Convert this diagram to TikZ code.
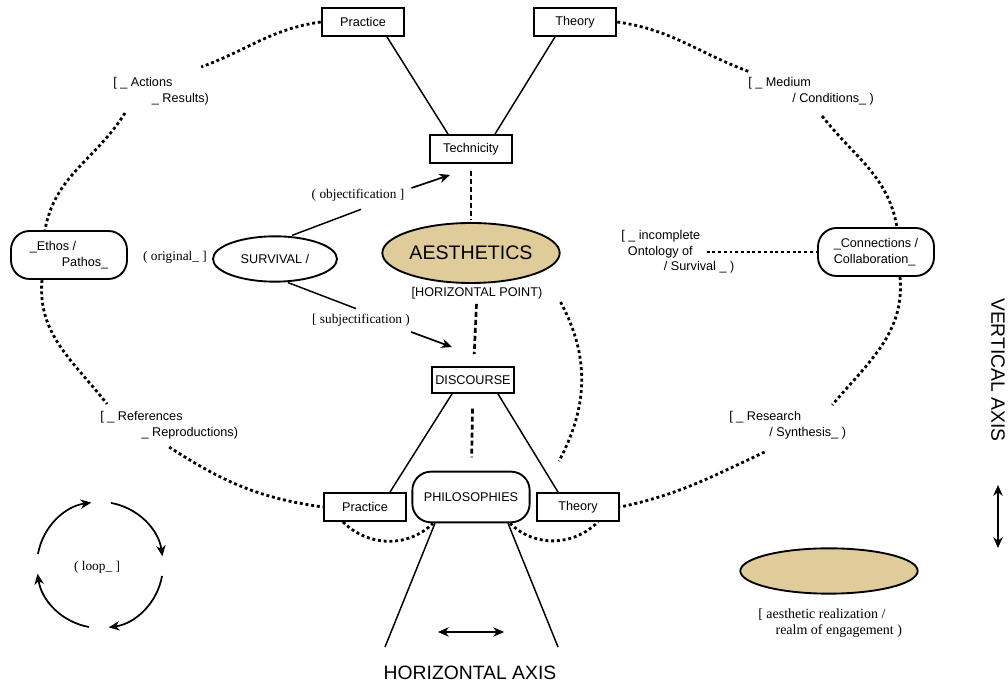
\documentclass[tikz,border=0pt]{standalone}
\usepackage{fontspec}
\setsansfont{Liberation Sans}
\newfontfamily\notefont{Liberation Serif}
\usetikzlibrary{calc,positioning,shapes.geometric,arrows.meta}
\definecolor{sand}{RGB}{224,204,154}

\tikzset{
  box/.style={draw, line width=1.4pt, minimum width=62pt, minimum height=21pt, inner sep=0pt, font=\sffamily\fontsize{9.5}{11.8}\selectfont},
  roundbox/.style={box, rounded corners=14pt, minimum width=87pt, minimum height=36pt, align=left},
  lbl/.style={inner sep=0pt, align=left, font=\sffamily\fontsize{9.5}{11.8}\selectfont},
  note/.style={inner sep=0pt, align=left, font=\notefont\fontsize{10}{12}\selectfont},
  dotline/.style={line width=2.1pt, dash pattern=on 2.2pt off 2.1pt},
  vdash/.style={line width=2pt, dash pattern=on 3.8pt off 2.2pt},
  thin/.style={line width=1.1pt},
  arr/.style={line width=1.3pt, -{Stealth[length=8pt,width=7pt,inset=2.5pt]}},
  darr/.style={line width=1.3pt, {Stealth[length=8pt,width=7pt,inset=2.5pt]}-{Stealth[length=8pt,width=7pt,inset=2.5pt]}},
}

\begin{document}
\begin{tikzpicture}[x=0.75pt,y=0.75pt]
  \useasboundingbox (0,0) rectangle (1008,691);

  % upper triangle
  \node[box] (ptop) at (363,669) {Practice};
  \node[box] (ttop) at (575,669) {Theory};
  \node[box] (tech) at (471,542) {Technicity};
  \draw[thin] ($(ptop.south)+(24,0)$) -- ($(tech.north)+(-23,0)$);
  \draw[thin] ($(ttop.south)+(-20,0)$) -- ($(tech.north)+(24,0)$);

  % centre column
  \node[ellipse, draw, fill=sand, line width=1.4pt, minimum width=133pt, minimum height=45pt, inner sep=0pt,
        font=\sffamily\fontsize{14.7}{16}\selectfont] (aes) at (471,438) {AESTHETICS};
  \node[lbl] (hpoint) at (477,398) {[HORIZONTAL POINT)};
  \node[box, minimum height=19.5pt] (disc) at (473,311) {DISCOURSE};
  \node[roundbox, minimum width=88pt, minimum height=38pt] (phil) at (471,194) {PHILOSOPHIES};
  \node[box] (pbot) at (365,184) {Practice};
  \node[box] (tbot) at (578,184) {Theory};

  \draw[vdash, shorten <=5pt, shorten >=2pt] (tech) -- (aes);
  \draw[vdash, shorten <=3.5pt, shorten >=9pt] (hpoint) -- (disc);
  \draw[vdash, shorten <=11pt, shorten >=10pt] (disc) -- (phil);
  \draw[thin] ($(disc.south)+(-21,0)$) -- ($(pbot.north)+(25,0)$);
  \draw[thin] ($(disc.south)+(25,0)$) -- ($(tbot.north)+(-20,0)$);
  \draw[dotline] ($(aes.east)+(0,-49)$) to[out=-62,in=62] ($(tbot.north)+(-19,31)$);

  % lower legs
  \coordinate (legL) at (385,44);
  \coordinate (legR) at (558,44);
  \draw[thin] ($(phil.south)+(-36,0)$) -- (legL);
  \draw[thin] ($(phil.south)+(37,0)$) -- (legR);
  \draw[dotline] ($(pbot.south)+(-22,0)$) to[out=-45,in=-135] ($(phil.south)+(-38,0)$);
  \draw[dotline] ($(phil.south)+(39,0)$) to[out=-45,in=-135] ($(tbot.south)+(20,0)$);
  \draw[darr] (438,59) -- (504,59);
  \node[font=\sffamily\fontsize{14.5}{16}\selectfont] (haxis) at (470,18) {HORIZONTAL AXIS};

  % outer ring
  \node[roundbox] (ethos) at (69,436) {\_Ethos /\\\hspace*{24pt}Pathos\_};
  \node[roundbox] (conn) at (876,439) {\_Connections /\\Collaboration\_};
  \node[lbl, anchor=west] (actions) at (113,600) {[ \_ Actions\\\hspace*{29pt}\_ Results)};
  \node[lbl, anchor=west] (medium) at (748,600) {[ \_ Medium\\\hspace*{33pt}/ Conditions\_ )};
  \node[lbl, anchor=west] (refs) at (100,266) {[ \_ References\\\hspace*{31pt}\_ Reproductions)};
  \node[lbl, anchor=west] (research) at (729,266) {[ \_ Research\\\hspace*{30pt}/ Synthesis\_ )};
  \node[lbl, anchor=west] (incomplete) at (621,439) {[ \_ incomplete\\\hspace*{5pt}Ontology of\\\hspace*{32pt}/ Survival \_ )};

  \draw[dotline] (ptop.west) to[out=188,in=20] ($(actions.north east)+(-8,10)$);
  \draw[dotline] ($(actions.south west)+(12,-8)$) to[out=238,in=80] ($(ethos.north)+(-24,0)$);
  \draw[dotline] ($(ethos.south)+(-27,0)$) to[out=-95,in=128] ($(refs.north west)+(7,7)$);
  \draw[dotline] ($(refs.south)+(0,-8)$) to[out=-33,in=172] (pbot.west);
  \draw[dotline] (ttop.east) to[out=-8,in=160] ($(medium.north west)+(2,5)$);
  \draw[dotline] ($(medium.south)+(11,-11)$) to[out=-52,in=100] ($(conn.north)+(21,0)$);
  \draw[dotline] ($(conn.south)+(24,0)$) to[out=-85,in=50] ($(research.north east)+(-14,6)$);
  \draw[dotline] ($(research.south)+(-23,-13)$) to[out=205,in=12] (tbot.east);
  \draw[dotline] ($(incomplete.east)+(-28,0)$) -- (conn);

  % survival
  \node[ellipse, draw, line width=1.4pt, minimum width=93pt, minimum height=34pt, inner sep=0pt,
        font=\sffamily\fontsize{9.5}{11}\selectfont] (surv) at (275,432) {SURVIVAL /};
  \node[note] (orig) at (175,434) {( original\_ ]};
  \node[note] (objlbl) at (358,496) {( objectification ]};
  \node[note] (subjlbl) at (361,371) {[ subjectification )};
  \draw[thin] ($(surv.north)+(17,0)$) -- ($(objlbl.south)+(3,-8)$);
  \draw[thin] ($(surv.south)+(13,0)$) -- ($(subjlbl.north)+(-5,5)$);
  \draw[arr] ($(objlbl.east)+(7,7)$) -- ($(tech.south)+(-21,-11)$);
  \draw[arr] ($(subjlbl.east)+(1,-12)$) -- ($(disc.north)+(-21,19)$);

  % loop
  \coordinate (loopc) at (100,126);
  \foreach \a in {170,80,-10,-100}
    \draw[arr] ([shift={(\a:63)}]loopc) arc[start angle=\a, delta angle=-72, radius=63];
  \node[note] (looplbl) at (97,124) {( loop\_ ]};

  % legend, right
  \node[font=\sffamily\fontsize{14.5}{16}\selectfont, rotate=-90] (vaxis) at (998,321) {VERTICAL AXIS};
  \draw[darr] (998,206) -- (998,143);
  \node[ellipse, draw, fill=sand, line width=1.4pt, minimum width=133pt, minimum height=34pt] (realm) at (829,120) {};
  \node[note, anchor=west, font=\notefont\fontsize{10.5}{12}\selectfont] (realmlbl) at (758,68) {[ aesthetic realization /\\\hspace*{13pt}realm of engagement )};
\end{tikzpicture}
\end{document}
